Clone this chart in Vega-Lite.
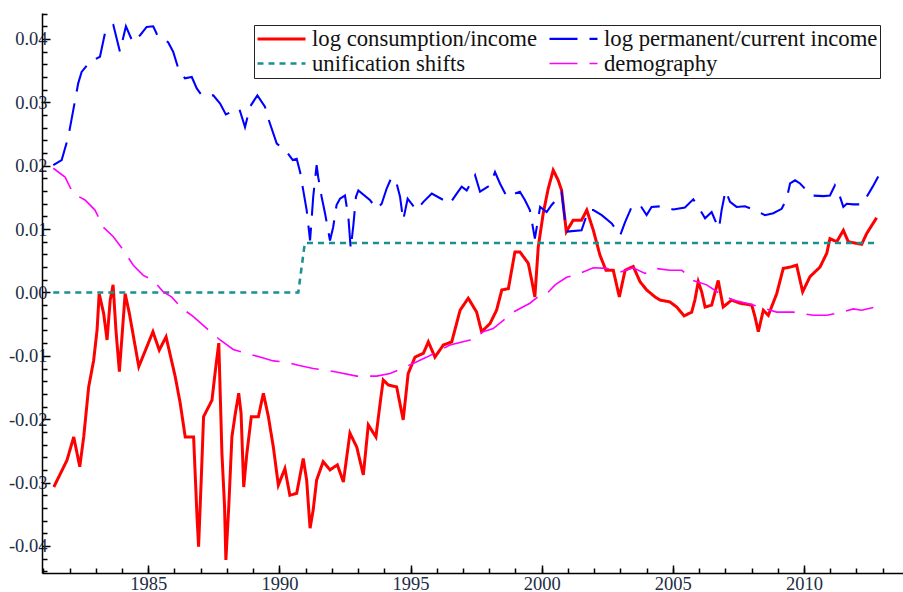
{
  "$schema": "https://vega.github.io/schema/vega-lite/v6.json",
  "width": 861,
  "height": 560,
  "autosize": {"type": "none"},
  "padding": {"left": 42, "top": 13, "right": 0, "bottom": 19},
  "background": "white",
  "config": {
    "view": {"stroke": null},
    "axis": {"labelFont": "Liberation Serif", "grid": false, "title": null}
  },
  "datasets": {
    "series": [
      {"series":"log consumption/income","year":1981.40,"value":-0.0307},
      {"series":"log consumption/income","year":1981.90,"value":-0.0265},
      {"series":"log consumption/income","year":1982.16,"value":-0.0228},
      {"series":"log consumption/income","year":1982.39,"value":-0.0275},
      {"series":"log consumption/income","year":1982.54,"value":-0.0228},
      {"series":"log consumption/income","year":1982.73,"value":-0.0149},
      {"series":"log consumption/income","year":1982.92,"value":-0.0107},
      {"series":"log consumption/income","year":1983.05,"value":-0.0059},
      {"series":"log consumption/income","year":1983.13,"value":-0.0002},
      {"series":"log consumption/income","year":1983.30,"value":-0.0033},
      {"series":"log consumption/income","year":1983.43,"value":-0.0075},
      {"series":"log consumption/income","year":1983.55,"value":-0.0012},
      {"series":"log consumption/income","year":1983.66,"value":0.0012},
      {"series":"log consumption/income","year":1983.77,"value":-0.0060},
      {"series":"log consumption/income","year":1983.90,"value":-0.0125},
      {"series":"log consumption/income","year":1984.12,"value":-0.0002},
      {"series":"log consumption/income","year":1984.28,"value":-0.0033},
      {"series":"log consumption/income","year":1984.64,"value":-0.0117},
      {"series":"log consumption/income","year":1985.18,"value":-0.0062},
      {"series":"log consumption/income","year":1985.42,"value":-0.0091},
      {"series":"log consumption/income","year":1985.68,"value":-0.0070},
      {"series":"log consumption/income","year":1986.03,"value":-0.0133},
      {"series":"log consumption/income","year":1986.22,"value":-0.0175},
      {"series":"log consumption/income","year":1986.41,"value":-0.0228},
      {"series":"log consumption/income","year":1986.73,"value":-0.0228},
      {"series":"log consumption/income","year":1986.86,"value":-0.0354},
      {"series":"log consumption/income","year":1986.92,"value":-0.0401},
      {"series":"log consumption/income","year":1987.02,"value":-0.0296},
      {"series":"log consumption/income","year":1987.11,"value":-0.0196},
      {"series":"log consumption/income","year":1987.43,"value":-0.0170},
      {"series":"log consumption/income","year":1987.56,"value":-0.0123},
      {"series":"log consumption/income","year":1987.69,"value":-0.0080},
      {"series":"log consumption/income","year":1987.81,"value":-0.0254},
      {"series":"log consumption/income","year":1987.91,"value":-0.0338},
      {"series":"log consumption/income","year":1987.96,"value":-0.0422},
      {"series":"log consumption/income","year":1988.07,"value":-0.0338},
      {"series":"log consumption/income","year":1988.19,"value":-0.0228},
      {"series":"log consumption/income","year":1988.32,"value":-0.0191},
      {"series":"log consumption/income","year":1988.45,"value":-0.0159},
      {"series":"log consumption/income","year":1988.54,"value":-0.0191},
      {"series":"log consumption/income","year":1988.64,"value":-0.0307},
      {"series":"log consumption/income","year":1988.76,"value":-0.0254},
      {"series":"log consumption/income","year":1988.93,"value":-0.0196},
      {"series":"log consumption/income","year":1989.20,"value":-0.0196},
      {"series":"log consumption/income","year":1989.39,"value":-0.0159},
      {"series":"log consumption/income","year":1989.58,"value":-0.0196},
      {"series":"log consumption/income","year":1989.77,"value":-0.0244},
      {"series":"log consumption/income","year":1989.96,"value":-0.0304},
      {"series":"log consumption/income","year":1990.21,"value":-0.0278},
      {"series":"log consumption/income","year":1990.40,"value":-0.0320},
      {"series":"log consumption/income","year":1990.66,"value":-0.0317},
      {"series":"log consumption/income","year":1990.91,"value":-0.0262},
      {"series":"log consumption/income","year":1991.04,"value":-0.0296},
      {"series":"log consumption/income","year":1991.17,"value":-0.0372},
      {"series":"log consumption/income","year":1991.29,"value":-0.0343},
      {"series":"log consumption/income","year":1991.42,"value":-0.0296},
      {"series":"log consumption/income","year":1991.67,"value":-0.0267},
      {"series":"log consumption/income","year":1991.93,"value":-0.0280},
      {"series":"log consumption/income","year":1992.21,"value":-0.0272},
      {"series":"log consumption/income","year":1992.44,"value":-0.0299},
      {"series":"log consumption/income","year":1992.69,"value":-0.0222},
      {"series":"log consumption/income","year":1992.95,"value":-0.0244},
      {"series":"log consumption/income","year":1993.20,"value":-0.0288},
      {"series":"log consumption/income","year":1993.39,"value":-0.0209},
      {"series":"log consumption/income","year":1993.68,"value":-0.0228},
      {"series":"log consumption/income","year":1993.84,"value":-0.0175},
      {"series":"log consumption/income","year":1993.96,"value":-0.0138},
      {"series":"log consumption/income","year":1994.15,"value":-0.0146},
      {"series":"log consumption/income","year":1994.47,"value":-0.0149},
      {"series":"log consumption/income","year":1994.72,"value":-0.0201},
      {"series":"log consumption/income","year":1994.91,"value":-0.0128},
      {"series":"log consumption/income","year":1995.17,"value":-0.0102},
      {"series":"log consumption/income","year":1995.49,"value":-0.0096},
      {"series":"log consumption/income","year":1995.68,"value":-0.0078},
      {"series":"log consumption/income","year":1995.93,"value":-0.0102},
      {"series":"log consumption/income","year":1996.25,"value":-0.0083},
      {"series":"log consumption/income","year":1996.57,"value":-0.0078},
      {"series":"log consumption/income","year":1996.89,"value":-0.0028},
      {"series":"log consumption/income","year":1997.20,"value":-0.0009},
      {"series":"log consumption/income","year":1997.52,"value":-0.0031},
      {"series":"log consumption/income","year":1997.71,"value":-0.0062},
      {"series":"log consumption/income","year":1998.03,"value":-0.0049},
      {"series":"log consumption/income","year":1998.28,"value":-0.0028},
      {"series":"log consumption/income","year":1998.48,"value":0.0004},
      {"series":"log consumption/income","year":1998.73,"value":0.0006},
      {"series":"log consumption/income","year":1998.98,"value":0.0064},
      {"series":"log consumption/income","year":1999.17,"value":0.0064},
      {"series":"log consumption/income","year":1999.49,"value":0.0046},
      {"series":"log consumption/income","year":1999.62,"value":0.0019},
      {"series":"log consumption/income","year":1999.74,"value":-0.0007},
      {"series":"log consumption/income","year":1999.87,"value":0.0072},
      {"series":"log consumption/income","year":2000.06,"value":0.0125},
      {"series":"log consumption/income","year":2000.25,"value":0.0164},
      {"series":"log consumption/income","year":2000.44,"value":0.0193},
      {"series":"log consumption/income","year":2000.63,"value":0.0177},
      {"series":"log consumption/income","year":2000.76,"value":0.0161},
      {"series":"log consumption/income","year":2000.94,"value":0.0096},
      {"series":"log consumption/income","year":2001.20,"value":0.0114},
      {"series":"log consumption/income","year":2001.52,"value":0.0114},
      {"series":"log consumption/income","year":2001.72,"value":0.0130},
      {"series":"log consumption/income","year":2001.97,"value":0.0098},
      {"series":"log consumption/income","year":2002.22,"value":0.0059},
      {"series":"log consumption/income","year":2002.45,"value":0.0035},
      {"series":"log consumption/income","year":2002.73,"value":0.0035},
      {"series":"log consumption/income","year":2002.96,"value":-0.0007},
      {"series":"log consumption/income","year":2003.18,"value":0.0035},
      {"series":"log consumption/income","year":2003.49,"value":0.0041},
      {"series":"log consumption/income","year":2003.75,"value":0.0017},
      {"series":"log consumption/income","year":2004.00,"value":0.0004},
      {"series":"log consumption/income","year":2004.32,"value":-0.0007},
      {"series":"log consumption/income","year":2004.51,"value":-0.0012},
      {"series":"log consumption/income","year":2004.89,"value":-0.0015},
      {"series":"log consumption/income","year":2005.15,"value":-0.0023},
      {"series":"log consumption/income","year":2005.43,"value":-0.0037},
      {"series":"log consumption/income","year":2005.72,"value":-0.0031},
      {"series":"log consumption/income","year":2005.84,"value":-0.0012},
      {"series":"log consumption/income","year":2005.97,"value":0.0017},
      {"series":"log consumption/income","year":2006.10,"value":0.0001},
      {"series":"log consumption/income","year":2006.23,"value":-0.0023},
      {"series":"log consumption/income","year":2006.48,"value":-0.0020},
      {"series":"log consumption/income","year":2006.73,"value":0.0019},
      {"series":"log consumption/income","year":2006.92,"value":-0.0023},
      {"series":"log consumption/income","year":2007.24,"value":-0.0012},
      {"series":"log consumption/income","year":2007.56,"value":-0.0017},
      {"series":"log consumption/income","year":2008.01,"value":-0.0020},
      {"series":"log consumption/income","year":2008.13,"value":-0.0038},
      {"series":"log consumption/income","year":2008.26,"value":-0.0062},
      {"series":"log consumption/income","year":2008.45,"value":-0.0028},
      {"series":"log consumption/income","year":2008.64,"value":-0.0036},
      {"series":"log consumption/income","year":2008.96,"value":-0.0002},
      {"series":"log consumption/income","year":2009.21,"value":0.0038},
      {"series":"log consumption/income","year":2009.47,"value":0.0040},
      {"series":"log consumption/income","year":2009.72,"value":0.0043},
      {"series":"log consumption/income","year":2009.95,"value":0.0001},
      {"series":"log consumption/income","year":2010.23,"value":0.0025},
      {"series":"log consumption/income","year":2010.61,"value":0.0040},
      {"series":"log consumption/income","year":2010.87,"value":0.0062},
      {"series":"log consumption/income","year":2010.99,"value":0.0085},
      {"series":"log consumption/income","year":2011.25,"value":0.0080},
      {"series":"log consumption/income","year":2011.50,"value":0.0098},
      {"series":"log consumption/income","year":2011.69,"value":0.0080},
      {"series":"log consumption/income","year":2011.94,"value":0.0078},
      {"series":"log consumption/income","year":2012.20,"value":0.0076},
      {"series":"log consumption/income","year":2012.39,"value":0.0093},
      {"series":"log consumption/income","year":2012.77,"value":0.0118},

      {"series":"log permanent/current income","year":1981.38,"value":0.0201},
      {"series":"log permanent/current income","year":1981.70,"value":0.0209},
      {"series":"log permanent/current income","year":1981.95,"value":0.0245},
      {"series":"log permanent/current income","year":1982.21,"value":0.0303},
      {"series":"log permanent/current income","year":1982.33,"value":0.0330},
      {"series":"log permanent/current income","year":1982.46,"value":0.0348},
      {"series":"log permanent/current income","year":1982.78,"value":0.0364},
      {"series":"log permanent/current income","year":1983.16,"value":0.0372},
      {"series":"log permanent/current income","year":1983.35,"value":0.0409},
      {"series":"log permanent/current income","year":1983.44,"value":0.0416},
      {"series":"log permanent/current income","year":1983.67,"value":0.0422},
      {"series":"log permanent/current income","year":1983.92,"value":0.0380},
      {"series":"log permanent/current income","year":1984.15,"value":0.0420},
      {"series":"log permanent/current income","year":1984.41,"value":0.0395},
      {"series":"log permanent/current income","year":1984.69,"value":0.0406},
      {"series":"log permanent/current income","year":1984.94,"value":0.0419},
      {"series":"log permanent/current income","year":1985.19,"value":0.0420},
      {"series":"log permanent/current income","year":1985.38,"value":0.0403},
      {"series":"log permanent/current income","year":1985.76,"value":0.0395},
      {"series":"log permanent/current income","year":1985.95,"value":0.0380},
      {"series":"log permanent/current income","year":1986.15,"value":0.0353},
      {"series":"log permanent/current income","year":1986.40,"value":0.0338},
      {"series":"log permanent/current income","year":1986.66,"value":0.0340},
      {"series":"log permanent/current income","year":1986.85,"value":0.0322},
      {"series":"log permanent/current income","year":1987.04,"value":0.0311},
      {"series":"log permanent/current income","year":1987.48,"value":0.0311},
      {"series":"log permanent/current income","year":1987.74,"value":0.0298},
      {"series":"log permanent/current income","year":1987.96,"value":0.0281},
      {"series":"log permanent/current income","year":1988.18,"value":0.0285},
      {"series":"log permanent/current income","year":1988.47,"value":0.0290},
      {"series":"log permanent/current income","year":1988.69,"value":0.0261},
      {"series":"log permanent/current income","year":1988.88,"value":0.0293},
      {"series":"log permanent/current income","year":1989.16,"value":0.0311},
      {"series":"log permanent/current income","year":1989.45,"value":0.0293},
      {"series":"log permanent/current income","year":1989.58,"value":0.0274},
      {"series":"log permanent/current income","year":1989.90,"value":0.0235},
      {"series":"log permanent/current income","year":1990.28,"value":0.0222},
      {"series":"log permanent/current income","year":1990.51,"value":0.0209},
      {"series":"log permanent/current income","year":1990.66,"value":0.0211},
      {"series":"log permanent/current income","year":1990.79,"value":0.0190},
      {"series":"log permanent/current income","year":1990.91,"value":0.0161},
      {"series":"log permanent/current income","year":1991.04,"value":0.0130},
      {"series":"log permanent/current income","year":1991.17,"value":0.0082},
      {"series":"log permanent/current income","year":1991.29,"value":0.0151},
      {"series":"log permanent/current income","year":1991.42,"value":0.0201},
      {"series":"log permanent/current income","year":1991.48,"value":0.0182},
      {"series":"log permanent/current income","year":1991.61,"value":0.0151},
      {"series":"log permanent/current income","year":1991.74,"value":0.0125},
      {"series":"log permanent/current income","year":1991.93,"value":0.0082},
      {"series":"log permanent/current income","year":1992.05,"value":0.0103},
      {"series":"log permanent/current income","year":1992.18,"value":0.0138},
      {"series":"log permanent/current income","year":1992.31,"value":0.0148},
      {"series":"log permanent/current income","year":1992.50,"value":0.0153},
      {"series":"log permanent/current income","year":1992.63,"value":0.0119},
      {"series":"log permanent/current income","year":1992.72,"value":0.0069},
      {"series":"log permanent/current income","year":1992.82,"value":0.0106},
      {"series":"log permanent/current income","year":1992.92,"value":0.0151},
      {"series":"log permanent/current income","year":1993.01,"value":0.0161},
      {"series":"log permanent/current income","year":1993.45,"value":0.0146},
      {"series":"log permanent/current income","year":1993.71,"value":0.0132},
      {"series":"log permanent/current income","year":1993.90,"value":0.0140},
      {"series":"log permanent/current income","year":1994.09,"value":0.0164},
      {"series":"log permanent/current income","year":1994.28,"value":0.0182},
      {"series":"log permanent/current income","year":1994.47,"value":0.0172},
      {"series":"log permanent/current income","year":1994.60,"value":0.0151},
      {"series":"log permanent/current income","year":1994.72,"value":0.0114},
      {"series":"log permanent/current income","year":1994.89,"value":0.0148},
      {"series":"log permanent/current income","year":1995.23,"value":0.0130},
      {"series":"log permanent/current income","year":1995.49,"value":0.0143},
      {"series":"log permanent/current income","year":1995.81,"value":0.0156},
      {"series":"log permanent/current income","year":1996.25,"value":0.0146},
      {"series":"log permanent/current income","year":1996.50,"value":0.0140},
      {"series":"log permanent/current income","year":1996.76,"value":0.0156},
      {"series":"log permanent/current income","year":1996.95,"value":0.0167},
      {"series":"log permanent/current income","year":1997.14,"value":0.0161},
      {"series":"log permanent/current income","year":1997.46,"value":0.0185},
      {"series":"log permanent/current income","year":1997.65,"value":0.0159},
      {"series":"log permanent/current income","year":1998.03,"value":0.0169},
      {"series":"log permanent/current income","year":1998.22,"value":0.0190},
      {"series":"log permanent/current income","year":1998.41,"value":0.0172},
      {"series":"log permanent/current income","year":1998.67,"value":0.0151},
      {"series":"log permanent/current income","year":1999.17,"value":0.0159},
      {"series":"log permanent/current income","year":1999.36,"value":0.0146},
      {"series":"log permanent/current income","year":1999.55,"value":0.0130},
      {"series":"log permanent/current income","year":1999.74,"value":0.0085},
      {"series":"log permanent/current income","year":1999.94,"value":0.0135},
      {"series":"log permanent/current income","year":2000.19,"value":0.0127},
      {"series":"log permanent/current income","year":2000.38,"value":0.0138},
      {"series":"log permanent/current income","year":2000.63,"value":0.0150},
      {"series":"log permanent/current income","year":2000.76,"value":0.0158},
      {"series":"log permanent/current income","year":2000.94,"value":0.0096},
      {"series":"log permanent/current income","year":2001.52,"value":0.0098},
      {"series":"log permanent/current income","year":2001.78,"value":0.0130},
      {"series":"log permanent/current income","year":2001.97,"value":0.0130},
      {"series":"log permanent/current income","year":2002.29,"value":0.0122},
      {"series":"log permanent/current income","year":2002.67,"value":0.0109},
      {"series":"log permanent/current income","year":2002.99,"value":0.0090},
      {"series":"log permanent/current income","year":2003.18,"value":0.0111},
      {"series":"log permanent/current income","year":2003.43,"value":0.0135},
      {"series":"log permanent/current income","year":2003.75,"value":0.0138},
      {"series":"log permanent/current income","year":2004.00,"value":0.0122},
      {"series":"log permanent/current income","year":2004.19,"value":0.0135},
      {"series":"log permanent/current income","year":2004.57,"value":0.0136},
      {"series":"log permanent/current income","year":2005.02,"value":0.0131},
      {"series":"log permanent/current income","year":2005.46,"value":0.0134},
      {"series":"log permanent/current income","year":2005.78,"value":0.0147},
      {"series":"log permanent/current income","year":2005.97,"value":0.0135},
      {"series":"log permanent/current income","year":2006.23,"value":0.0117},
      {"series":"log permanent/current income","year":2006.48,"value":0.0127},
      {"series":"log permanent/current income","year":2006.61,"value":0.0114},
      {"series":"log permanent/current income","year":2006.76,"value":0.0101},
      {"series":"log permanent/current income","year":2006.86,"value":0.0130},
      {"series":"log permanent/current income","year":2007.01,"value":0.0161},
      {"series":"log permanent/current income","year":2007.18,"value":0.0143},
      {"series":"log permanent/current income","year":2007.43,"value":0.0135},
      {"series":"log permanent/current income","year":2007.75,"value":0.0136},
      {"series":"log permanent/current income","year":2008.13,"value":0.0130},
      {"series":"log permanent/current income","year":2008.51,"value":0.0122},
      {"series":"log permanent/current income","year":2008.83,"value":0.0125},
      {"series":"log permanent/current income","year":2009.15,"value":0.0132},
      {"series":"log permanent/current income","year":2009.34,"value":0.0148},
      {"series":"log permanent/current income","year":2009.47,"value":0.0172},
      {"series":"log permanent/current income","year":2009.66,"value":0.0177},
      {"series":"log permanent/current income","year":2009.85,"value":0.0172},
      {"series":"log permanent/current income","year":2010.10,"value":0.0161},
      {"series":"log permanent/current income","year":2010.29,"value":0.0153},
      {"series":"log permanent/current income","year":2010.74,"value":0.0152},
      {"series":"log permanent/current income","year":2010.99,"value":0.0153},
      {"series":"log permanent/current income","year":2011.18,"value":0.0169},
      {"series":"log permanent/current income","year":2011.31,"value":0.0159},
      {"series":"log permanent/current income","year":2011.50,"value":0.0135},
      {"series":"log permanent/current income","year":2011.63,"value":0.0140},
      {"series":"log permanent/current income","year":2011.88,"value":0.0139},
      {"series":"log permanent/current income","year":2012.20,"value":0.0139},
      {"series":"log permanent/current income","year":2012.39,"value":0.0151},
      {"series":"log permanent/current income","year":2012.62,"value":0.0167},
      {"series":"log permanent/current income","year":2012.83,"value":0.0183},

      {"series":"unification shifts","year":1981.38,"value":0},
      {"series":"unification shifts","year":1990.72,"value":0},
      {"series":"unification shifts","year":1990.97,"value":0.0078},
      {"series":"unification shifts","year":2012.77,"value":0.0078},

      {"series":"demography","year":1981.38,"value":0.0196},
      {"series":"demography","year":1981.83,"value":0.0182},
      {"series":"demography","year":1982.14,"value":0.0156},
      {"series":"demography","year":1982.59,"value":0.0146},
      {"series":"demography","year":1982.97,"value":0.0130},
      {"series":"demography","year":1983.29,"value":0.0103},
      {"series":"demography","year":1983.67,"value":0.0088},
      {"series":"demography","year":1984.05,"value":0.0067},
      {"series":"demography","year":1984.43,"value":0.0043},
      {"series":"demography","year":1984.81,"value":0.0027},
      {"series":"demography","year":1985.19,"value":0.0019},
      {"series":"demography","year":1985.57,"value":0.0001},
      {"series":"demography","year":1985.89,"value":-0.0007},
      {"series":"demography","year":1986.28,"value":-0.0025},
      {"series":"demography","year":1986.72,"value":-0.0038},
      {"series":"demography","year":1987.29,"value":-0.0059},
      {"series":"demography","year":1987.74,"value":-0.0075},
      {"series":"demography","year":1988.24,"value":-0.0090},
      {"series":"demography","year":1988.75,"value":-0.0096},
      {"series":"demography","year":1989.26,"value":-0.0102},
      {"series":"demography","year":1989.77,"value":-0.0108},
      {"series":"demography","year":1990.28,"value":-0.0110},
      {"series":"demography","year":1990.72,"value":-0.0115},
      {"series":"demography","year":1991.29,"value":-0.0120},
      {"series":"demography","year":1992.12,"value":-0.0125},
      {"series":"demography","year":1992.95,"value":-0.0132},
      {"series":"demography","year":1993.71,"value":-0.0132},
      {"series":"demography","year":1994.22,"value":-0.0128},
      {"series":"demography","year":1994.66,"value":-0.0120},
      {"series":"demography","year":1995.10,"value":-0.0112},
      {"series":"demography","year":1995.62,"value":-0.0102},
      {"series":"demography","year":1996.00,"value":-0.0094},
      {"series":"demography","year":1996.50,"value":-0.0083},
      {"series":"demography","year":1997.27,"value":-0.0075},
      {"series":"demography","year":1997.77,"value":-0.0062},
      {"series":"demography","year":1998.15,"value":-0.0057},
      {"series":"demography","year":1998.92,"value":-0.0031},
      {"series":"demography","year":1999.55,"value":-0.0017},
      {"series":"demography","year":1999.94,"value":-0.0004},
      {"series":"demography","year":2000.19,"value":-0.0002},
      {"series":"demography","year":2000.51,"value":0.0012},
      {"series":"demography","year":2000.95,"value":0.0024},
      {"series":"demography","year":2001.33,"value":0.0028},
      {"series":"demography","year":2001.97,"value":0.0039},
      {"series":"demography","year":2002.48,"value":0.0038},
      {"series":"demography","year":2002.99,"value":0.0032},
      {"series":"demography","year":2003.49,"value":0.0039},
      {"series":"demography","year":2003.94,"value":0.0030},
      {"series":"demography","year":2004.32,"value":0.0038},
      {"series":"demography","year":2004.89,"value":0.0035},
      {"series":"demography","year":2005.34,"value":0.0035},
      {"series":"demography","year":2005.78,"value":0.0019},
      {"series":"demography","year":2006.29,"value":0.0012},
      {"series":"demography","year":2006.80,"value":-0.0002},
      {"series":"demography","year":2007.30,"value":-0.0012},
      {"series":"demography","year":2007.82,"value":-0.0017},
      {"series":"demography","year":2008.32,"value":-0.0023},
      {"series":"demography","year":2008.96,"value":-0.0031},
      {"series":"demography","year":2009.59,"value":-0.0031},
      {"series":"demography","year":2010.35,"value":-0.0036},
      {"series":"demography","year":2010.87,"value":-0.0036},
      {"series":"demography","year":2011.37,"value":-0.0032},
      {"series":"demography","year":2011.88,"value":-0.0026},
      {"series":"demography","year":2012.20,"value":-0.0028},
      {"series":"demography","year":2012.71,"value":-0.0023}
    ]
  },
  "layer": [
    {
      "data": {"name": "series"},
      "mark": {"type": "point", "opacity": 0},
      "encoding": {
        "x": {
          "field": "year", "type": "quantitative",
          "scale": {"domain": [1980.95, 2013.775], "nice": false, "zero": false},
          "axis": {
            "orient": "bottom", "labels": false, "domain": false,
            "values": [1981,1982,1983,1984,1985,1986,1987,1988,1989,1990,1991,1992,1993,1994,1995,1996,1997,1998,1999,2000,2001,2002,2003,2004,2005,2006,2007,2008,2009,2010,2011,2012,2013],
            "tickSize": -5, "tickColor": "#000000", "tickWidth": 1.5
          }
        },
        "y": {
          "field": "value", "type": "quantitative",
          "scale": {"domain": [-0.04427, 0.0441], "nice": false, "zero": false},
          "axis": {
            "orient": "left", "labels": false, "domain": false,
            "values": [-0.044,-0.042,-0.038,-0.036,-0.034,-0.032,-0.028,-0.026,-0.024,-0.022,-0.018,-0.016,-0.014,-0.012,-0.008,-0.006,-0.004,-0.002,0.002,0.004,0.006,0.008,0.012,0.014,0.016,0.018,0.022,0.024,0.026,0.028,0.032,0.034,0.036,0.038,0.042,0.044],
            "tickSize": -5, "tickColor": "#000000", "tickWidth": 1.5
          }
        }
      }
    },
    {
      "mark": {"type": "rule", "color": "#8c8c8c", "strokeWidth": 2},
      "encoding": {"y": {"datum": 0, "type": "quantitative", "axis": null}}
    },
    {
      "data": {"name": "series"},
      "mark": {"type": "line", "strokeJoin": "miter"},
      "encoding": {
        "x": {
          "field": "year", "type": "quantitative",
          "scale": {"domain": [1980.95, 2013.775], "nice": false, "zero": false},
          "axis": {
            "orient": "bottom",
            "values": [1985, 1990, 1995, 2000, 2005, 2010],
            "format": "d",
            "tickSize": -8, "tickColor": "#000000", "tickWidth": 1.5,
            "domainColor": "#000000", "domainWidth": 1.5,
            "labelFontSize": 18.5, "labelColor": "#222c44", "labelPadding": 9,
            "labelFlush": false, "labelOverlap": false
          }
        },
        "y": {
          "field": "value", "type": "quantitative",
          "scale": {"domain": [-0.04427, 0.0441], "nice": false, "zero": false},
          "axis": {
            "orient": "left",
            "values": [-0.04, -0.03, -0.02, -0.01, 0, 0.01, 0.02, 0.03, 0.04],
            "labelExpr": "datum.value < 0 ? '-' + format(-datum.value, '.2f') : format(datum.value, '.2f')",
            "tickSize": -8, "tickColor": "#000000", "tickWidth": 1.5,
            "domainColor": "#000000", "domainWidth": 1.5,
            "labelFontSize": 18.5, "labelColor": "#222c44", "labelPadding": 3,
            "labelFlush": false, "labelOverlap": false
          }
        },
        "color": {
          "field": "series", "type": "nominal",
          "scale": {
            "domain": ["log consumption/income", "unification shifts", "log permanent/current income", "demography"],
            "range": ["#ff0000", "#1a9090", "#0000ff", "#ff00ff"]
          },
          "legend": {
            "title": null, "orient": "none", "legendX": 212, "legendY": 12,
            "columns": 2, "symbolType": "stroke", "symbolSize": 2304,
            "labelFont": "Liberation Serif", "labelFontSize": 22.7, "labelColor": "#111111",
            "labelLimit": 400, "labelOffset": 5, "clipHeight": 23,
            "rowPadding": 1, "columnPadding": 11, "padding": 2,
            "strokeColor": "#222222"
          }
        },
        "strokeDash": {
          "field": "series", "type": "nominal",
          "scale": {
            "domain": ["log consumption/income", "unification shifts", "log permanent/current income", "demography"],
            "range": [[1, 0], [6, 5], [28, 12], [28, 12]]
          }
        },
        "strokeWidth": {
          "field": "series", "type": "nominal",
          "scale": {
            "domain": ["log consumption/income", "unification shifts", "log permanent/current income", "demography"],
            "range": [3, 1.6, 1.1, 1.1]
          }
        }
      }
    }
  ],
  "resolve": {"axis": {"x": "independent", "y": "independent"}}
}
